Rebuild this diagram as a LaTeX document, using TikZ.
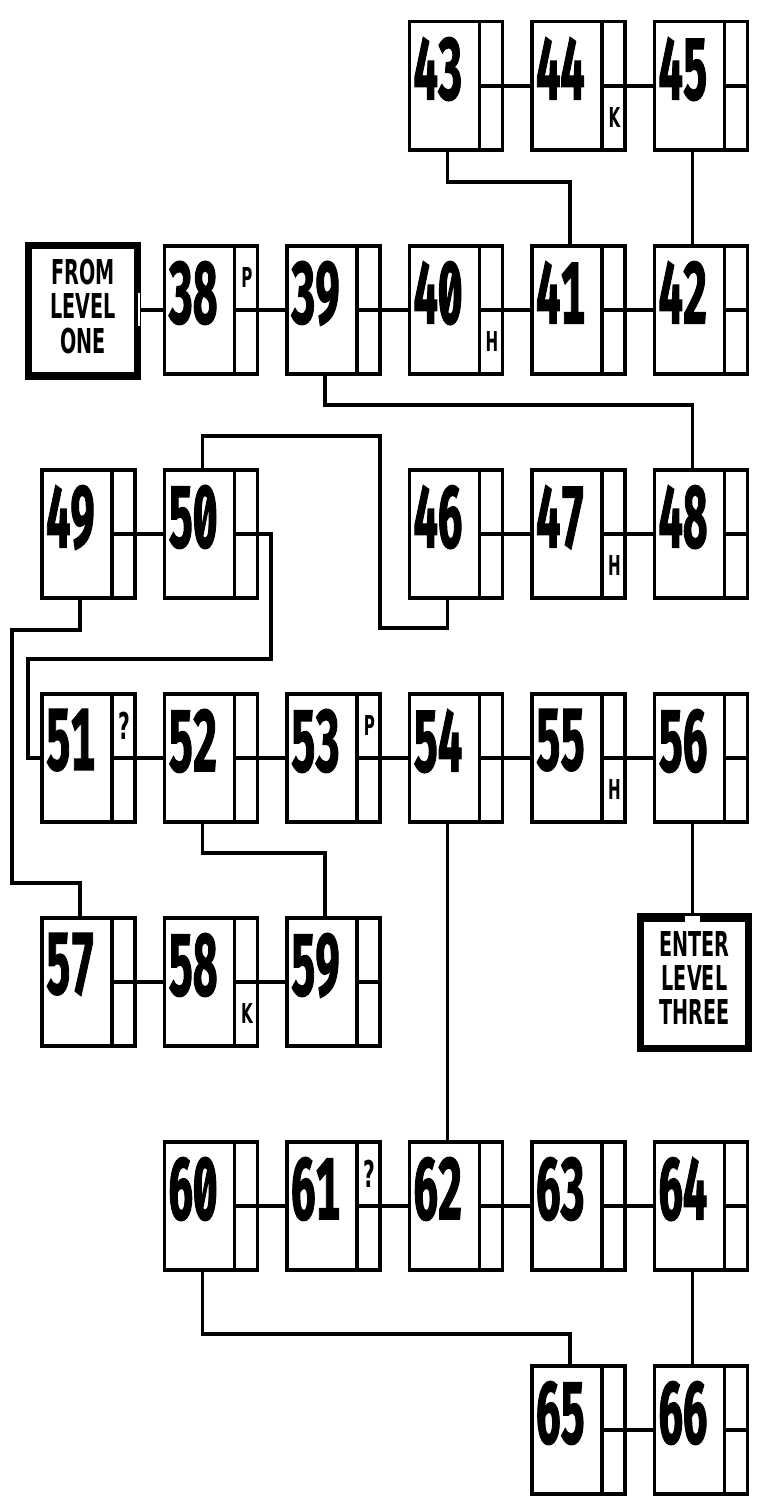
\documentclass[tikz,border=0pt]{standalone}
\usepackage{fontspec}
\setsansfont{DejaVu Sans}
\newfontfamily\roomfont{Fira Sans}[Numbers={Lining,Monospaced,SlashedZero}, BoldFeatures={FakeBold=2}]

\begin{document}
\begin{tikzpicture}[
    x=0.02cm, y=-0.02cm,
    wire/.style={line width=0.07cm},
    room/.style={draw, line width=0.07cm, minimum width=1.87cm, minimum height=2.57cm,
                 anchor=north west, inner sep=0pt},
    num/.style={font=\roomfont\bfseries\fontsize{49.5}{49.5}\selectfont, xscale=0.5,
                anchor=north west, inner sep=0pt},
    cellmark/.style={font=\sffamily\bfseries\fontsize{15.6}{15.6}\selectfont, xscale=0.55, inner sep=0pt},
    level/.style={draw, line width=0.13cm, inner sep=0pt,
                  font=\sffamily\bfseries\fontsize{19.5}{17.6}\selectfont}
]
    \path[fill=white, use as bounding box] (0,0) rectangle (759,1501);

    % 房间：编号/列/行/上格/下格
    \foreach \id/\col/\row/\hi/\lo in {43/3/0/{}/{}, 44/4/0/{}/K, 45/5/0/{}/{},
        38/1/1/P/{}, 39/2/1/{}/{}, 40/3/1/{}/H, 41/4/1/{}/{}, 42/5/1/{}/{},
        49/0/2/{}/{}, 50/1/2/{}/{}, 46/3/2/{}/{}, 47/4/2/{}/H, 48/5/2/{}/{},
        51/0/3/{\fontsize{21}{21}\selectfont ?}/{}, 52/1/3/{}/{}, 53/2/3/P/{},
        54/3/3/{}/{}, 55/4/3/{}/H, 56/5/3/{}/{},
        57/0/4/{}/{}, 58/1/4/{}/K, 59/2/4/{}/{},
        60/1/5/{}/{}, 61/2/5/{\fontsize{21}{21}\selectfont ?}/{}, 62/3/5/{}/{},
        63/4/5/{}/{}, 64/5/5/{}/{},
        65/4/6/{}/{}, 66/5/6/{}/{}}
    {
        \node[room] (r\id) at ({40+122.5*\col},{20+224*\row}) {};
        \node[num] (n\id) at ([shift={(0.12cm,-0.34cm)}]r\id.north west) {\id};
        \draw[wire] ([xshift=-0.5cm]r\id.north east) -- ([xshift=-0.5cm]r\id.south east);
        \draw[wire] ([xshift=-0.5cm]r\id.east) -- (r\id.east);
        \node[cellmark] (t\id) at ([shift={(-0.25cm,0.64cm)}]r\id.east) {\hi};
        \node[cellmark] (b\id) at ([shift={(-0.25cm,-0.64cm)}]r\id.east) {\lo};
        \coordinate (u\id) at ([xshift=0.8cm]r\id.north west);
        \coordinate (d\id) at ([xshift=0.8cm]r\id.south west);
    }

    % 入口与出口
    \node[level, minimum width=2.19cm, minimum height=2.63cm] (from) at (83,311)
        {\scalebox{0.56}[1]{\begin{tabular}{@{}c@{}}FROM\\LEVEL\\ONE\end{tabular}}};
    \node[level, minimum width=2.17cm, minimum height=2.65cm] (enter) at (694.5,982.5)
        {\scalebox{0.56}[1]{\begin{tabular}{@{}c@{}}ENTER\\LEVEL\\THREE\end{tabular}}};
    \coordinate (gate) at (r38.west -| from.east);
    \coordinate (door) at (d56 |- enter.north);
    \fill ([shift={(0.065cm,0.065cm)}]from.south west) rectangle ([shift={(-0.065cm,0.165cm)}]from.south east);
    \fill[white] ([shift={(-0.065cm,-0.33cm)}]gate) rectangle ([shift={(-0.015cm,0.33cm)}]gate);
    \fill ([shift={(0.065cm,-0.065cm)}]enter.north west) rectangle ([shift={(-0.065cm,-0.175cm)}]enter.north east);
    \fill[white] ([shift={(-0.15cm,-0.065cm)}]door) rectangle ([shift={(0.15cm,-0.175cm)}]door);
    \fill ([shift={(0.065cm,0.065cm)}]enter.south west) rectangle ([shift={(-0.065cm,0.135cm)}]enter.south east);

    % 横向通道
    \foreach \a/\z in {38/39, 39/40, 40/41, 41/42, 43/44, 44/45, 49/50, 46/47, 47/48,
        51/52, 52/53, 53/54, 54/55, 55/56, 57/58, 58/59, 60/61, 61/62, 62/63, 63/64, 65/66}
        \draw[wire] (r\a.east) -- (r\z.west);
    \draw[wire] (r38.west) -- (gate);

    % 纵向通道
    \draw[wire] (d43) -- ++(0,30) -| (u41);
    \draw[wire] (d45) -- (u42);
    \draw[wire] (d39) -- ++(0,29) -| (u48);
    \draw[wire] (u50) -- ++(0,-32) -| (380,628) -| (d46);
    \draw[wire] (d49) -- ++(0,30) -| (12,883) -| (u57);
    \draw[wire] (r50.east) -| (271,659) -| ([xshift=-0.24cm]r51.west) -- (r51.west);
    \draw[wire] (d52) -- ++(0,29) -| (u59);
    \draw[wire] (d54) -- (u62);
    \draw[wire] (d56) -- (door);
    \draw[wire] (d60) -- ++(0,62) -| (u65);
    \draw[wire] (d64) -- (u66);
\end{tikzpicture}
\end{document}
